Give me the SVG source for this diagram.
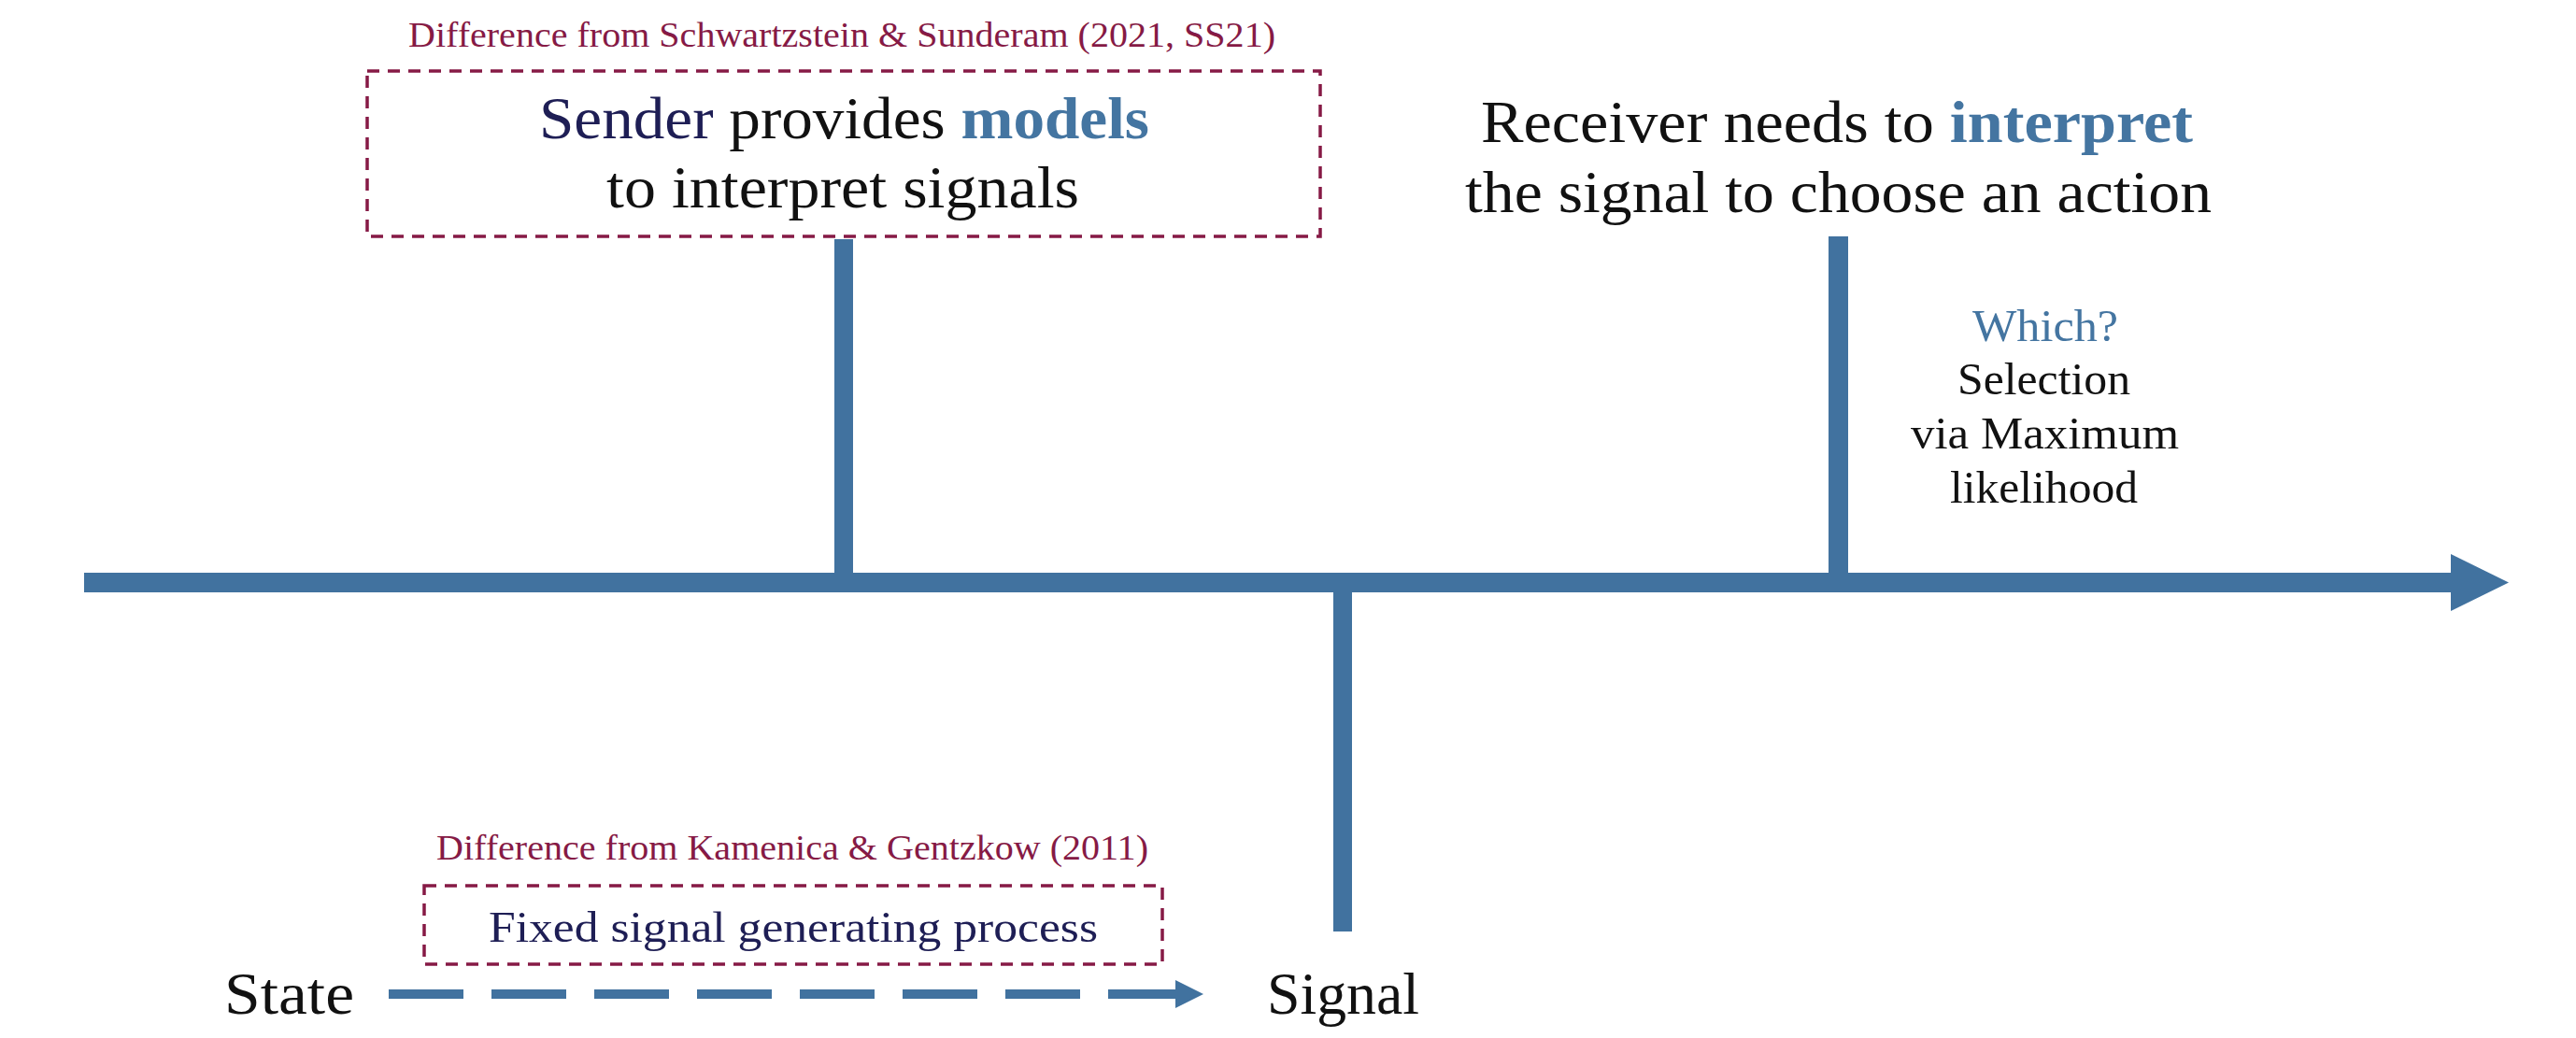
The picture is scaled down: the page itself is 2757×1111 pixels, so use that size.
<svg xmlns="http://www.w3.org/2000/svg" width="2757" height="1111" viewBox="0 0 2757 1111">
<style>
  text { font-family: "Liberation Serif", "Times New Roman", serif; }
  .note { fill: #861A45; font-size: 37px; }
  .big { fill: #111111; font-size: 63px; }
  .mid { fill: #111111; font-size: 48px; }
  .navy { fill: #1E1E55; }
  .blue { fill: #4475A1; }
  .bold { font-weight: bold; }
  .dbox { fill: none; stroke: #861A45; stroke-width: 3.5; stroke-dasharray: 13 9; }
  .bar { fill: #41729F; }
</style>
<rect width="2757" height="1111" fill="#ffffff"/>
<g id="connectors">
  <rect class="bar" x="90" y="613" width="2535" height="21"/>
  <polygon class="bar" points="2623,593 2685,623.5 2623,654"/>
  <rect class="bar" x="893" y="256" width="20" height="358"/>
  <rect class="bar" x="1957" y="253" width="21" height="361"/>
  <rect class="bar" x="1427" y="633" width="20" height="364"/>
  <line x1="416" y1="1064" x2="1262" y2="1064" stroke="#41729F" stroke-width="10" stroke-dasharray="80 30"/>
  <polygon class="bar" points="1258,1049 1288,1064 1258,1079"/>
</g>
<g id="node-sender">
  <text class="note" x="437" y="50" textLength="928" lengthAdjust="spacingAndGlyphs">Difference from Schwartzstein &amp; Sunderam (2021, SS21)</text>
  <rect class="dbox" x="393" y="76" width="1020" height="177"/>
  <text class="big" x="577" y="148" textLength="653" lengthAdjust="spacingAndGlyphs"><tspan class="navy">Sender</tspan> provides <tspan class="blue bold">models</tspan></text>
  <text class="big" x="649" y="222" textLength="506" lengthAdjust="spacingAndGlyphs">to interpret signals</text>
</g>
<g id="node-receiver">
  <text class="big" x="1585" y="152" textLength="762" lengthAdjust="spacingAndGlyphs">Receiver needs to <tspan class="blue bold">interpret</tspan></text>
  <text class="big" x="1568" y="227" textLength="799" lengthAdjust="spacingAndGlyphs">the signal to choose an action</text>
</g>
<g id="node-which">
  <text class="mid blue" x="2111" y="365" textLength="156" lengthAdjust="spacingAndGlyphs">Which?</text>
  <text class="mid" x="2095" y="422" textLength="185" lengthAdjust="spacingAndGlyphs">Selection</text>
  <text class="mid" x="2045" y="480" textLength="287" lengthAdjust="spacingAndGlyphs">via Maximum</text>
  <text class="mid" x="2087" y="538" textLength="201" lengthAdjust="spacingAndGlyphs">likelihood</text>
</g>
<g id="node-fixed">
  <text class="note" x="467" y="920" textLength="762" lengthAdjust="spacingAndGlyphs">Difference from Kamenica &amp; Gentzkow (2011)</text>
  <rect class="dbox" x="454" y="948" width="790" height="84"/>
  <text class="navy" x="523" y="1008" font-size="47" textLength="652" lengthAdjust="spacingAndGlyphs">Fixed signal generating process</text>
</g>
<g id="node-state">
  <text class="big" x="240" y="1085" textLength="139" lengthAdjust="spacingAndGlyphs">State</text>
</g>
<g id="node-signal">
  <text class="big" x="1356" y="1085" textLength="163" lengthAdjust="spacingAndGlyphs">Signal</text>
</g>
</svg>
